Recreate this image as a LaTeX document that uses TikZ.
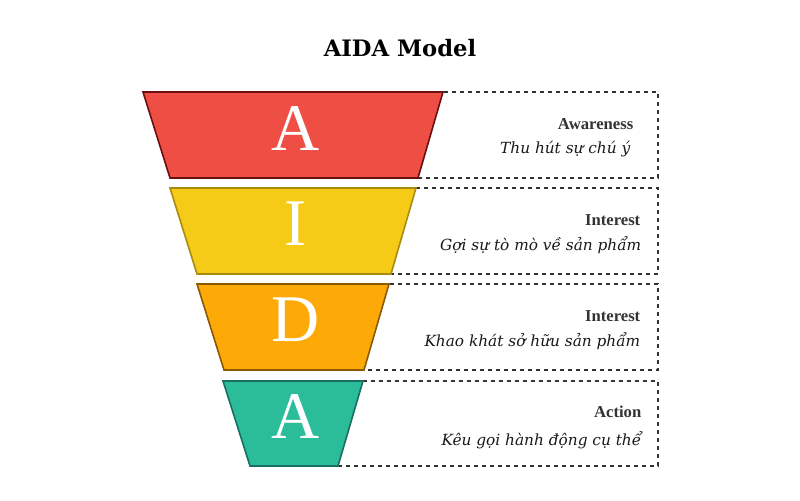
\documentclass[tikz,border=0pt]{standalone}
\usepackage{fontspec}
\setmainfont{DejaVu Serif}
\newfontfamily\tms{Liberation Serif}
\begin{document}
\begin{tikzpicture}[x=0.75pt,y=-0.75pt,
  box/.style={draw=black!80,dashed,line width=0.9pt},
  trap/.style={line width=1.2pt},
  big/.style={text=white,font=\tms\fontsize{50}{50}\selectfont},
  ttl/.style={anchor=east,font=\tms\bfseries\fontsize{12.5}{14}\selectfont,text=black!80},
  sub/.style={anchor=east,font=\itshape\fontsize{11.5}{14}\selectfont,text=black!90}]
\useasboundingbox (0,0) rectangle (800,500);
\definecolor{c1}{HTML}{EF4E45}\definecolor{d1}{HTML}{6B1010}
\definecolor{c2}{HTML}{F5CB17}\definecolor{d2}{HTML}{A88C10}
\definecolor{c3}{HTML}{FDAA08}\definecolor{d3}{HTML}{8A5A05}
\definecolor{c4}{HTML}{2BBC9A}\definecolor{d4}{HTML}{1A7060}
\node[font=\bfseries\fontsize{17}{20}\selectfont] (title) at (400,48) {AIDA Model};
\draw[box] (400,92) rectangle (658,178);
\draw[box] (380,188) rectangle (658,274);
\draw[box] (358,284) rectangle (658,370);
\draw[box] (335,381) rectangle (658,466);
\filldraw[trap,fill=c1,draw=d1] (143,92)--(443,92)--(418,178)--(170,178)--cycle;
\filldraw[trap,fill=c2,draw=d2] (170,188)--(416,188)--(391,274)--(197,274)--cycle;
\filldraw[trap,fill=c3,draw=d3] (197,284)--(389,284)--(364,370)--(224,370)--cycle;
\filldraw[trap,fill=c4,draw=d4] (223,381)--(363,381)--(338,466)--(250,466)--cycle;
\node[big] (l1) at (296,128) {A};
\node[big] (l2) at (296,224) {I};
\node[big] (l3) at (296,320) {D};
\node[big] (l4) at (296,416) {A};
\node[ttl] (t1) at (638,124) {Awareness};
\node[sub] (s1) at (635,149) {Thu hút sự chú ý};
\node[ttl] (t2) at (645,220) {Interest};
\node[sub] (s2) at (646,245) {Gợi sự tò mò về sản phẩm};
\node[ttl] (t3) at (645,316) {Interest};
\node[sub] (s3) at (645,341) {Khao khát sở hữu sản phẩm};
\node[ttl] (t4) at (646,412) {Action};
\node[sub] (s4) at (646,440) {Kêu gọi hành động cụ thể};
\end{tikzpicture}
\end{document}
